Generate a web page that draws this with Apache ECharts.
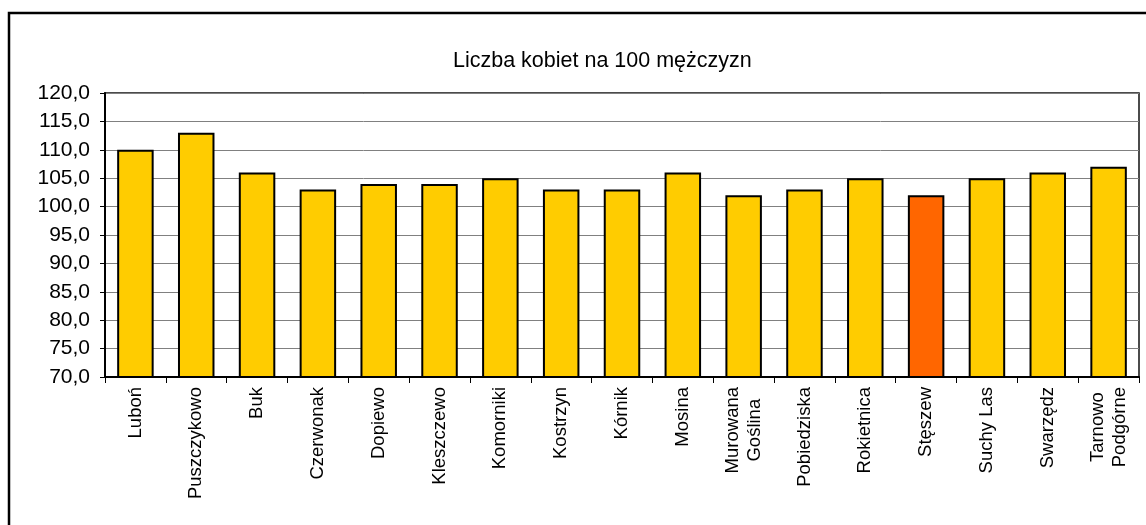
<!DOCTYPE html>
<html>
<head>
<meta charset="utf-8">
<script src="https://cdn.jsdelivr.net/npm/echarts@6/dist/echarts.min.js"></script>
<style>
  html, body { margin: 0; padding: 0; background: #fff; }
  #chart { width: 1146px; height: 525px; }
</style>
</head>
<body>
<div id="chart"></div>
<script>
const gminy = ['Luboń', 'Puszczykowo', 'Buk', 'Czerwonak', 'Dopiewo', 'Kleszczewo', 'Komorniki', 'Kostrzyn', 'Kórnik', 'Mosina', 'Murowana\nGoślina', 'Pobiedziska', 'Rokietnica', 'Stęszew', 'Suchy Las', 'Swarzędz', 'Tarnowo\nPodgórne']
const kobietNa100 = [110, 113, 106, 103, 104, 104, 105, 103, 103, 106, 102, 103, 105, 102, 105, 106, 107]
const wyrozniona = 'Stęszew'
const yMin = 70
const yMax = 120
const yStep = 5

const font = '"Liberation Sans", Arial, sans-serif'

var myChart = echarts.init(document.getElementById('chart'))

myChart.setOption({
    animation: false,
    backgroundColor: '#fff',
    textStyle: { fontFamily: font, color: '#000' },
    title: {
        text: 'Liczba kobiet na 100 mężczyzn',
        left: 448,
        top: 45,
        textStyle: { fontFamily: font, fontSize: 21.5, fontWeight: 'normal', color: '#000' }
    },
    // ramka całego wykresu, wychodzi poza obraz z prawej i z dołu
    graphic: [{
        type: 'rect',
        shape: { x: 9, y: 13, width: 1300, height: 700 },
        style: { fill: null, stroke: '#000', lineWidth: 2.5 },
        silent: true
    }],
    grid: {
        left: 105,
        right: 7,
        top: 93,
        bottom: 148,
        show: true,
        borderColor: '#111',
        borderWidth: 1.5,
        containLabel: false
    },
    xAxis: {
        type: 'category',
        data: gminy,
        axisLine: { lineStyle: { color: '#000', width: 2 } },
        axisTick: { show: true, alignWithLabel: false, length: 6, lineStyle: { color: '#000', width: 1 } },
        axisLabel: {
            rotate: 90,
            interval: 0,
            margin: 10,
            fontSize: 18.5,
            fontFamily: font,
            color: '#000',
            lineHeight: 22,
            // wiersze nazw dwuczłonowych wyśrodkowane względem siebie
            formatter: v => v.split('\n').map(s => '{c|' + s + '}').join('\n'),
            rich: { c: { align: 'center', fontSize: 18.5, fontFamily: font, color: '#000', lineHeight: 22 } }
        }
    },
    yAxis: {
        type: 'value',
        min: yMin,
        max: yMax,
        interval: yStep,
        axisLine: { show: true, lineStyle: { color: '#000', width: 2 } },
        axisTick: { show: true, length: 5, lineStyle: { color: '#000', width: 1 } },
        axisLabel: {
            fontSize: 21,
            fontFamily: font,
            color: '#000',
            margin: 15,
            formatter: v => v.toFixed(1).replace('.', ',')
        },
        splitLine: { show: true, lineStyle: { color: '#808080', width: 1 } }
    },
    series: [{
        type: 'bar',
        barCategoryGap: '40%',
        data: kobietNa100.map((v, i) => ({
            value: v,
            itemStyle: { color: gminy[i] === wyrozniona ? '#FF6600' : '#FFCC00' }
        })),
        itemStyle: { borderColor: '#000', borderWidth: 2 },
        emphasis: { disabled: true }
    }]
})
</script>
</body>
</html>
